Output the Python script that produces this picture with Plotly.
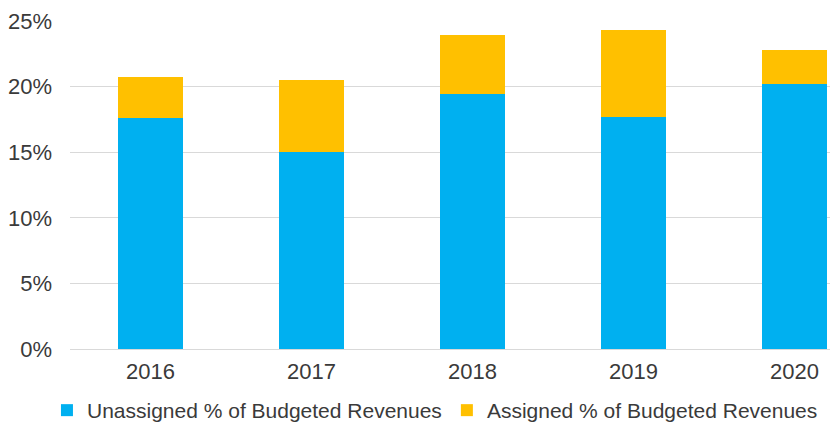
import plotly.graph_objects as go

years = ["2016", "2017", "2018", "2019", "2020"]
unassigned = [0.176, 0.150, 0.194, 0.177, 0.202]
assigned = [0.031, 0.055, 0.045, 0.066, 0.026]
series_names = ["Unassigned % of Budgeted Revenues", "Assigned % of Budgeted Revenues"]
colors = ["#00B0F0", "#FFC000"]

fig = go.Figure()
fig.add_trace(go.Bar(x=years, y=unassigned, name=series_names[0],
                     marker=dict(color=colors[0], line=dict(width=0))))
fig.add_trace(go.Bar(x=years, y=assigned, name=series_names[1],
                     marker=dict(color=colors[1], line=dict(width=0))))

font_family = "Liberation Sans, Arial, sans-serif"
txt = "#3a3a3a"
fig.update_layout(
    width=830, height=423,
    barmode="stack", bargap=0.6,
    margin=dict(l=62, r=0, t=13, b=82, pad=0),
    plot_bgcolor="white", paper_bgcolor="white",
    font=dict(family=font_family, size=22, color=txt),
    showlegend=True,
    legend=dict(orientation="h", x=-0.03, xanchor="left", y=-0.188, yanchor="middle",
                font=dict(size=21, color=txt), traceorder="normal",
                itemwidth=30, bgcolor="rgba(0,0,0,0)"),
    xaxis=dict(type="category", range=[-0.5, 4.27], showgrid=False, showline=False,
               ticks="", ticklabelstandoff=7, tickfont=dict(size=22, color=txt)),
    yaxis=dict(range=[0, 0.25], dtick=0.05, tickformat=".0%", showgrid=True,
               gridcolor="#D9D9D9", gridwidth=1.3, zeroline=True, zerolinecolor="#D9D9D9",
               zerolinewidth=1.3, showline=False, ticks="", ticklabelstandoff=17,
               tickfont=dict(size=22, color=txt)),
)

fig.write_html("out.html")
